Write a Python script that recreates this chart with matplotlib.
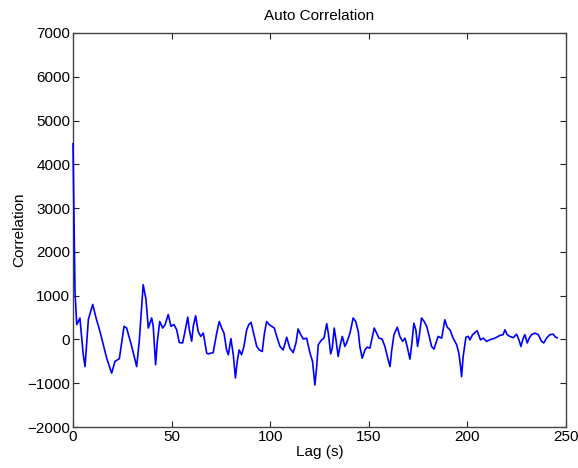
import matplotlib.pyplot as plt

# values (lag in s, correlation)
lag = [0, 0.5, 1.0, 1.9, 2.7, 3.5, 5.2, 6.1, 6.9, 7.8, 10.0, 11.7, 13.7, 15.4, 17.1,
       19.6, 21.3, 23.5, 25.9, 27.2, 29.8, 32.3, 33.6, 35.6, 37.0, 38.2, 39.9, 40.7,
       41.9, 42.7, 44.0, 45.5, 46.7, 48.3, 49.7, 51.2, 52.6, 53.9, 55.6, 56.8, 58.2,
       59.0, 60.2, 61.0, 62.2, 63.5, 64.8, 66.1, 67.8, 68.6, 71.1, 72.9, 74.2, 75.4,
       76.6, 77.9, 78.8, 80.1, 81.3, 82.4, 83.3, 84.3, 85.5, 86.7, 88.1, 89.2, 90.3,
       91.4, 93.2, 94.5, 96.0, 97.0, 98.2, 99.5, 100.8, 102.1, 103.6, 105.0, 106.6,
       108.4, 110.0, 111.7, 113.1, 114.2, 115.5, 116.8, 118.5, 120.2, 121.5, 122.7,
       123.6, 124.4, 126.1, 127.3, 128.7, 129.5, 130.7, 131.5, 132.5, 133.4, 134.5,
       135.4, 136.6, 137.9, 138.8, 140.5, 142.1, 143.4, 144.7, 145.5, 146.7, 148.1,
       149.2, 150.6, 151.8, 152.8, 154.0, 155.2, 156.8, 158.2, 159.9, 160.8, 161.6,
       162.8, 164.5, 165.8, 167.2, 168.4, 169.5, 170.9, 171.9, 172.9, 173.9, 174.8,
       175.6, 176.8, 178.1, 179.4, 180.7, 181.9, 183.1, 184.4, 185.2, 187.0, 188.6,
       189.8, 191.2, 192.8, 194.6, 195.7, 196.6, 197.1, 197.9, 199.3, 200.5, 201.3,
       202.7, 205.0, 206.7, 208.1, 209.8, 211.8, 214.0, 216.5, 218.2, 219.1, 220.2,
       221.6, 223.3, 225.0, 226.2, 227.2, 228.3, 229.2, 230.4, 231.4, 232.6, 234.3,
       236.0, 237.7, 238.8, 240.2, 241.9, 243.6, 244.8, 245.6]
corr = [4470, 2750, 1100, 340, 410, 490, -350, -620, -120, 460, 800, 490, 180, -120, -430,
        -770, -500, -440, 300, 260, -160, -620, -45, 1250, 920, 260, 490, 300,
        -580, -80, 410, 260, 340, 570, 300, 340, 220, -70, -80, 180, 510,
        220, -40, 300, 540, 180, 70, 145, -310, -330, -300, 145, 410, 260,
        145, -240, -350, 20, -350, -880, -500, -240, -350, -160, 220, 340, 390,
        180, -160, -240, -275, 110, 410, 340, 300, 260, 30, -160, -240,
        50, -200, -300, -80, 240, 110, 10, 30, -310, -500, -1040,
        -620, -120, -10, 30, 360, 145, -330, -200, 260, -10, -390,
        -160, 70, -160, -80, 145, 490, 410, 180, -160, -430, -240,
        -175, -200, 50, 260, 145, 30, 10, -160, -470, -620, -275,
        110, 280, 70, -45, 30, -160, -450, -80, 370, 220, -160,
        70, 490, 410, 300, 70, -160, -220, -45, 70, 30, 450,
        280, 220, 30, -120, -310, -620, -850, -390, 50, 70, -10,
        110, 200, -10, 30, -45, 0, 30, 90, 110, 220, 110,
        70, 40, 120, -10, -160, 20, 110, -80, 30, 110, 145,
        110, -45, -80, 30, 110, 120, 50, 40]

x_ticks = [0, 50, 100, 150, 200, 250]
y_ticks = [-2000, -1000, 0, 1000, 2000, 3000, 4000, 5000, 6000, 7000]

plt.rcParams['font.family'] = ['Liberation Sans', 'DejaVu Sans']

fig = plt.figure(figsize=(5.78, 4.68), dpi=100)
ax = fig.add_axes([0.1263, 0.0876, 0.8527, 0.8419])

# line drawn above the spines so the lag-0 spike stays visible
ax.plot(lag, corr, color='#0000ff', linewidth=1.2, zorder=3, clip_on=False)

ax.set_xlim(0, 250)
ax.set_ylim(-2000, 7000)
ax.set_xticks(x_ticks)
ax.set_yticks(y_ticks)
ax.tick_params(direction='in', length=4, width=0.8, top=True, right=True,
               labelsize=11, colors='#222222', labelcolor='black', pad=2)
for s in ax.spines.values():
    s.set_color('#444444')
    s.set_linewidth(1.0)

ax.set_title('Auto Correlation', fontsize=11, pad=9)
ax.set_xlabel('Lag (s)', fontsize=11, labelpad=1)
ax.set_ylabel('Correlation', fontsize=11, labelpad=1)

fig.savefig('out.png', dpi=100)
